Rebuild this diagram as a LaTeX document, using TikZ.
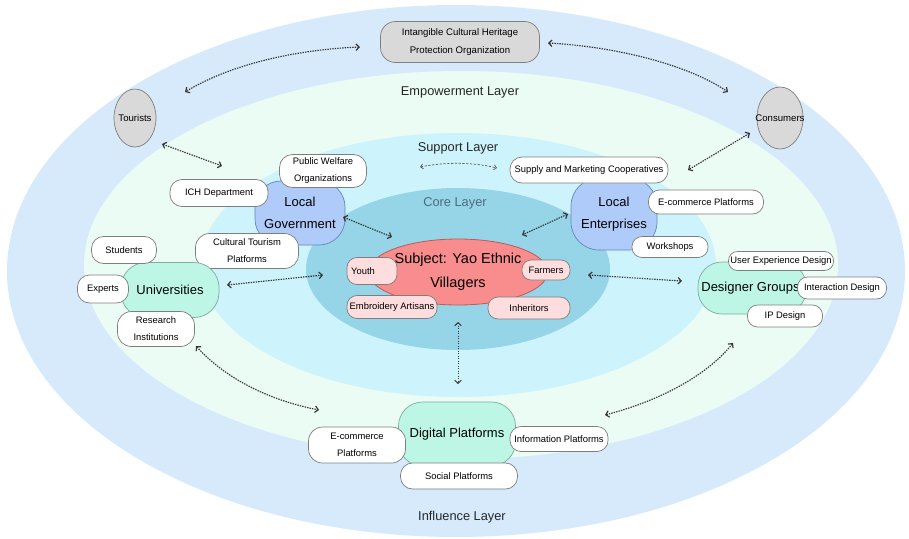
\documentclass[tikz,border=0pt]{standalone}
\usepackage{fontspec}
\setmainfont{Liberation Sans}
\usetikzlibrary{arrows.meta,shapes.geometric}
\definecolor{outerc}{HTML}{D7EAFC}
\definecolor{mintc}{HTML}{EBFCF4}
\definecolor{cyanc}{HTML}{CDF3FC}
\definecolor{corec}{HTML}{95D5E7}
\definecolor{subjc}{HTML}{F98C8C}
\definecolor{subjb}{HTML}{B85C5C}
\definecolor{pinkc}{HTML}{FDDDDE}
\definecolor{bluec}{HTML}{AFCBFA}
\definecolor{blueb}{HTML}{6A86B8}
\definecolor{mintn}{HTML}{BDF6E4}
\definecolor{mintb}{HTML}{7DAE9F}
\definecolor{grayc}{HTML}{D9D9D9}
\definecolor{lineb}{HTML}{7E7E7E}
\definecolor{arrc}{HTML}{333333}
\definecolor{corelbl}{HTML}{4E6C7C}
\begin{document}
\begin{tikzpicture}[x=1pt,y=-1pt,
  subbox/.style={draw=lineb, fill=white, line width=0.7pt, align=center,
    inner sep=1pt, font=\fontsize{9.4}{17}\selectfont},
  pinkbox/.style={subbox, fill=pinkc},
  graybox/.style={draw=lineb, fill=grayc, line width=0.7pt, align=center,
    inner sep=1pt, font=\fontsize{9.6}{17.5}\selectfont},
  bluebox/.style={draw=blueb, fill=bluec, line width=0.7pt, align=center,
    inner sep=1pt, font=\fontsize{13}{22}\selectfont},
  mintbox/.style={draw=mintb, fill=mintn, line width=0.7pt, align=center,
    inner sep=1pt, font=\fontsize{13}{22}\selectfont},
  layerlbl/.style={font=\fontsize{12.8}{15}\selectfont, text=black!85},
  link/.style={draw=arrc, line width=1.15pt, dash pattern=on 1.4pt off 1.1pt,
    {Straight Barb[length=3.2pt,width=6.5pt]}-{Straight Barb[length=3.2pt,width=6.5pt]}},
  thinlink/.style={draw=arrc!80, line width=0.75pt, dash pattern=on 2.2pt off 1.6pt,
    {Straight Barb[length=2.6pt,width=5pt]}-{Straight Barb[length=2.6pt,width=5pt]}}
]
\useasboundingbox (0,0) rectangle (909,538);
% layers
\fill[outerc] (456,271) ellipse [x radius=449, y radius=266];
\fill[mintc] (461,265) ellipse [x radius=377, y radius=194];
\fill[cyanc] (458,265) ellipse [x radius=258, y radius=132];
\fill[corec] (458,269) ellipse [x radius=152, y radius=81];
% layer labels
\node[layerlbl] (lemp) at (460,92) {Empowerment Layer};
\node[layerlbl] (lsup) at (458,148) {Support Layer};
\node[layerlbl, text=corelbl] (lcore) at (455,203) {Core Layer};
\node[layerlbl] (linf) at (462,517) {Influence Layer};
% empowerment layer
\node[graybox, minimum width=159pt, minimum height=41pt, rounded corners=15pt] (ich) at (460,42)
  {Intangible Cultural Heritage\\Protection Organization};
\node[graybox, ellipse, minimum width=42pt, minimum height=58pt, inner sep=0pt] (tour) at (135,118) {\makebox[0pt]{Tourists}};
\node[graybox, ellipse, minimum width=46pt, minimum height=62pt, inner sep=0pt] (cons) at (780,118) {\makebox[0pt]{Consumers}};
% core subject
\node[ellipse, draw=subjb, fill=subjc, line width=0.8pt, minimum width=140pt, minimum height=66pt,
  align=center, inner sep=0pt, font=\fontsize{14.5}{24}\selectfont] (subj) at (458,272)
  {Subject: Yao Ethnic\\Villagers};
\node[pinkbox, minimum width=50pt, minimum height=27pt, rounded corners=10pt] (youth) at (372,271) {Youth\hspace*{18pt}};
\node[pinkbox, minimum width=90pt, minimum height=23pt, rounded corners=10pt] (embr) at (392,307) {Embroidery Artisans};
\node[pinkbox, minimum width=48pt, minimum height=20pt, rounded corners=9pt] (farm) at (546,270) {Farmers};
\node[pinkbox, minimum width=82pt, minimum height=22pt, rounded corners=10pt] (inher) at (529,308) {Inheritors};
% local government
\node[bluebox, minimum width=90pt, minimum height=64pt, rounded corners=26pt] (gov) at (300,213) {Local\\Government};
\node[subbox, minimum width=98pt, minimum height=27pt, rounded corners=12pt] (ichd) at (219,193) {ICH Department};
\node[subbox, minimum width=87pt, minimum height=33pt, rounded corners=13pt] (pwo) at (323,171) {Public Welfare\\Organizations};
\node[subbox, minimum width=103pt, minimum height=35pt, rounded corners=14pt] (ctp) at (247,251) {Cultural Tourism\\Platforms};
% local enterprises
\node[bluebox, minimum width=86pt, minimum height=72pt, rounded corners=28pt] (ent) at (614,214) {Local\\Enterprises};
\node[subbox, minimum width=158pt, minimum height=26pt, rounded corners=12pt] (smc) at (589,170) {Supply and Marketing Cooperatives};
\node[subbox, minimum width=115pt, minimum height=24pt, rounded corners=11pt] (ecom1) at (706,202) {E-commerce Platforms};
\node[subbox, minimum width=76pt, minimum height=21pt, rounded corners=10pt] (work) at (670,247) {Workshops};
% universities
\node[mintbox, minimum width=98pt, minimum height=55pt, rounded corners=25pt] (uni) at (170,290) {Universities};
\node[subbox, minimum width=65pt, minimum height=27pt, rounded corners=12pt] (stud) at (124,250) {Students};
\node[subbox, minimum width=51pt, minimum height=28pt, rounded corners=12pt] (expt) at (103,289) {Experts};
\node[subbox, minimum width=77pt, minimum height=35pt, rounded corners=14pt] (resi) at (156,329) {Research\\Institutions};
% designer groups
\node[mintbox, minimum width=108pt, minimum height=52pt, rounded corners=24pt] (des) at (752,288) {Designer Groups\hspace*{3pt}};
\node[subbox, minimum width=105pt, minimum height=19pt, rounded corners=9pt] (uxd) at (781,261) {User Experience Design};
\node[subbox, minimum width=89pt, minimum height=22pt, rounded corners=10pt] (ixd) at (842,288) {Interaction Design};
\node[subbox, minimum width=75pt, minimum height=22pt, rounded corners=10pt] (ipd) at (785,316) {IP Design};
% digital platforms
\node[mintbox, minimum width=117pt, minimum height=64pt, rounded corners=24pt] (dig) at (457,434) {Digital Platforms};
\node[subbox, minimum width=97pt, minimum height=36pt, rounded corners=14pt] (ecom2) at (357,445) {E-commerce\\Platforms};
\node[subbox, minimum width=98pt, minimum height=25pt, rounded corners=11pt] (info) at (559,439) {Information Platforms};
\node[subbox, minimum width=117pt, minimum height=26pt, rounded corners=12pt] (soc) at (459,476) {Social Platforms};
% connector end points
\coordinate (a1) at (360,47);   \coordinate (a2) at (185,92);
\coordinate (b1) at (548,43);   \coordinate (b2) at (728,92);
\coordinate (c1) at (162,144);  \coordinate (c2) at (222,166);
\coordinate (d1) at (750,133);  \coordinate (d2) at (688,170);
\coordinate (e1) at (420,167);  \coordinate (e2) at (497,168);
\coordinate (f1) at (343,217);  \coordinate (f2) at (392,237);
\coordinate (g1) at (568,214);  \coordinate (g2) at (522,235);
\coordinate (h1) at (227,285);  \coordinate (h2) at (323,275);
\coordinate (i1) at (588,275);  \coordinate (i2) at (682,281);
\coordinate (j1) at (458,322);  \coordinate (j2) at (458,384);
\coordinate (k1) at (196,346);  \coordinate (k2) at (319,410);
\coordinate (l1) at (733,343);  \coordinate (l2) at (605,415);
% connectors
\draw[link] (a1) .. controls (290,50) and (228,66) .. (a2);
\draw[link] (b1) .. controls (620,47) and (690,66) .. (b2);
\draw[link] (c1) -- (c2);
\draw[link] (d1) -- (d2);
\draw[thinlink] (e1) .. controls (445,162) and (472,162) .. (e2);
\draw[link] (f1) -- (f2);
\draw[link] (g1) -- (g2);
\draw[link] (h1) -- (h2);
\draw[link] (i1) -- (i2);
\draw[link, line width=0.9pt] (j1) -- (j2);
\draw[link] (k1) .. controls (225,378) and (268,400) .. (k2);
\draw[link] (l1) .. controls (705,378) and (655,402) .. (l2);
\end{tikzpicture}
\end{document}
